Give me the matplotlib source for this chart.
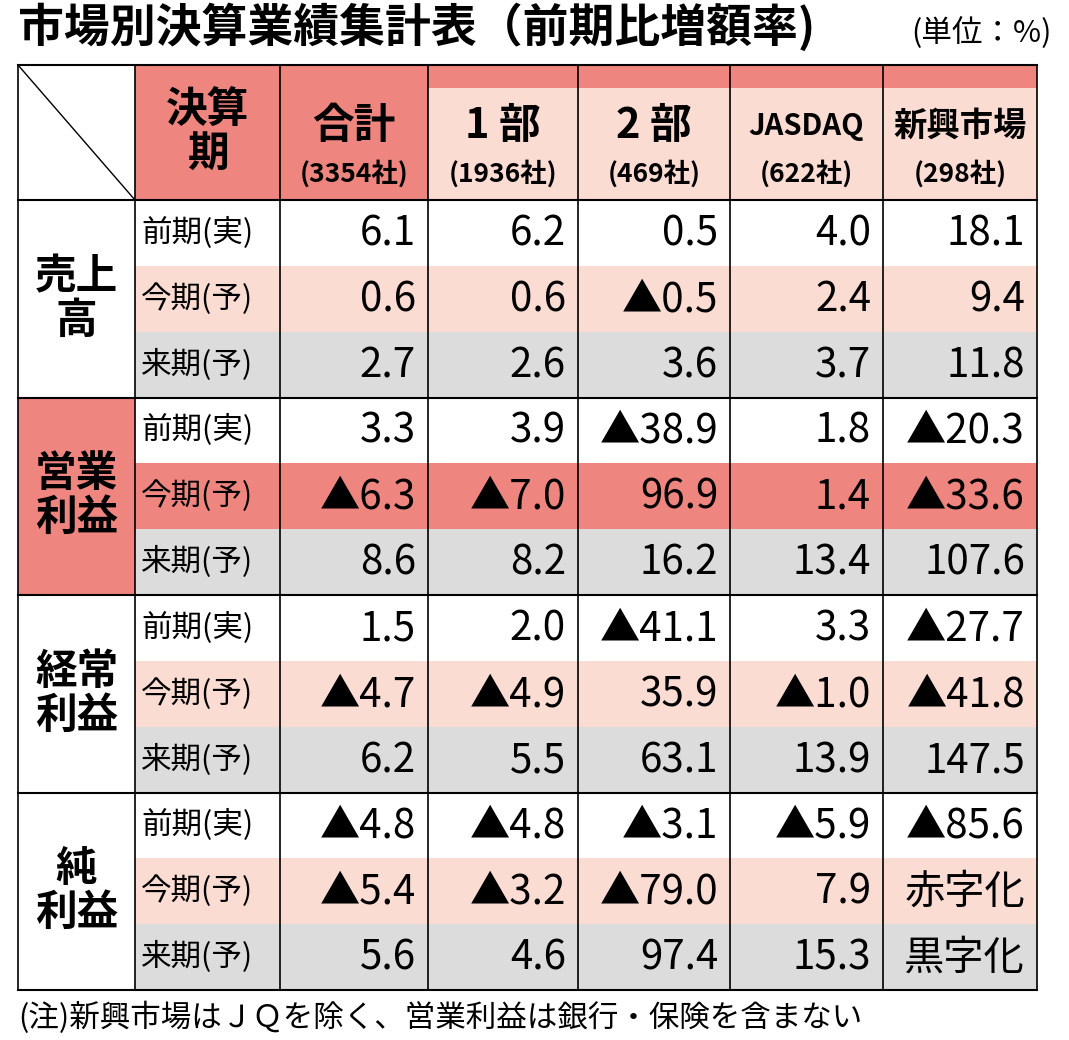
import matplotlib.pyplot as plt
from matplotlib.patches import Rectangle

plt.rcParams['font.family'] = ['Noto Sans CJK JP', 'DejaVu Sans']

title = "市場別決算業績集計表（前期比増額率)"
unit = "(単位：%)"
note = "(注)新興市場はＪＱを除く、営業利益は銀行・保険を含まない"
markets = ["合計", "1 部", "2 部", "JASDAQ", "新興市場"]
counts = ["(3354社)", "(1936社)", "(469社)", "(622社)", "(298社)"]
groups = ["売上\n高", "営業\n利益", "経常\n利益", "純\n利益"]
periods = ["前期(実)", "今期(予)", "来期(予)"]
values = [
    ["6.1", "6.2", "0.5", "4.0", "18.1"],
    ["0.6", "0.6", "▲0.5", "2.4", "9.4"],
    ["2.7", "2.6", "3.6", "3.7", "11.8"],
    ["3.3", "3.9", "▲38.9", "1.8", "▲20.3"],
    ["▲6.3", "▲7.0", "96.9", "1.4", "▲33.6"],
    ["8.6", "8.2", "16.2", "13.4", "107.6"],
    ["1.5", "2.0", "▲41.1", "3.3", "▲27.7"],
    ["▲4.7", "▲4.9", "35.9", "▲1.0", "▲41.8"],
    ["6.2", "5.5", "63.1", "13.9", "147.5"],
    ["▲4.8", "▲4.8", "▲3.1", "▲5.9", "▲85.6"],
    ["▲5.4", "▲3.2", "▲79.0", "7.9", "赤字化"],
    ["5.6", "4.6", "97.4", "15.3", "黒字化"],
]

SALMON = "#ee857e"
PINK = "#fadcd3"
GRAY = "#dcdcdd"

fig = plt.figure(figsize=(10.69, 10.40), dpi=100)
ax = fig.add_axes([0, 0, 1, 1])
ax.set_xlim(0, 1069)
ax.set_ylim(1040, 0)
ax.axis('off')

xs = [18, 135, 280, 428, 578, 730, 883, 1037]
y_top, y_hdr, y_end = 65, 200, 990
rh = (y_end - y_hdr) / 12

def rect(x0, y0, x1, y1, c):
    ax.add_patch(Rectangle((x0, y0), x1 - x0, y1 - y0, facecolor=c, edgecolor='none'))

# header
rect(xs[1], y_top, xs[2], y_hdr, SALMON)
rect(xs[2], y_top, xs[-1], 88, SALMON)
rect(xs[2], 88, xs[3], y_hdr, SALMON)
rect(xs[3], 88, xs[-1], y_hdr, PINK)
ax.plot([xs[0], xs[1]], [y_top, y_hdr], color='black', lw=1)
ax.text((xs[1] + xs[2]) / 2, 132, "決算\n期", ha='center', va='center', fontsize=30,
        fontweight='bold', linespacing=1.05)
for i, (m, c) in enumerate(zip(markets, counts)):
    cx = (xs[i + 2] + xs[i + 3]) / 2
    fs = 30 if len(m) < 5 else 21
    if len(m) == 4 and not m.isascii():
        fs = 24
    ax.text(cx, 126, m, ha='center', va='center', fontsize=fs, fontweight='bold')
    ax.text(cx, 174, c, ha='center', va='center', fontsize=19, fontweight='bold')

# body
for r in range(12):
    y0 = y_hdr + r * rh
    k = r % 3
    c = ['white', PINK, GRAY][k]
    if r == 4:
        c = SALMON
    rect(xs[1], y0, xs[-1], y0 + rh, c)
    ax.text(xs[1] + 6, y0 + rh / 2, periods[k], ha='left', va='center', fontsize=22)
    for j, v in enumerate(values[r]):
        ax.text(xs[j + 3] - 12, y0 + rh / 2 + 1, v, ha='right', va='center', fontsize=29)
for g, lab in enumerate(groups):
    y0 = y_hdr + g * 3 * rh
    if g == 1:
        rect(xs[0], y0, xs[1], y0 + 3 * rh, SALMON)
    ax.text((xs[0] + xs[1]) / 2, y0 + 1.5 * rh, lab, ha='center', va='center', fontsize=30,
            fontweight='bold', linespacing=1.05)
    ax.plot([xs[0], xs[-1]], [y0, y0], color='black', lw=1.5)

# grid lines
for x in xs:
    ax.plot([x, x], [y_top, y_end], color='black', lw=1.2)
ax.plot([xs[0], xs[-1]], [y_top, y_top], color='black', lw=1.5)
ax.plot([xs[0], xs[-1]], [y_end, y_end], color='black', lw=1.5)

ax.text(18, 28, title, ha='left', va='center', fontsize=33, fontweight='bold')
ax.text(1052, 33, unit, ha='right', va='center', fontsize=22)
ax.text(18, 1018, note, ha='left', va='center', fontsize=22)

fig.savefig("out.png", dpi=100)
